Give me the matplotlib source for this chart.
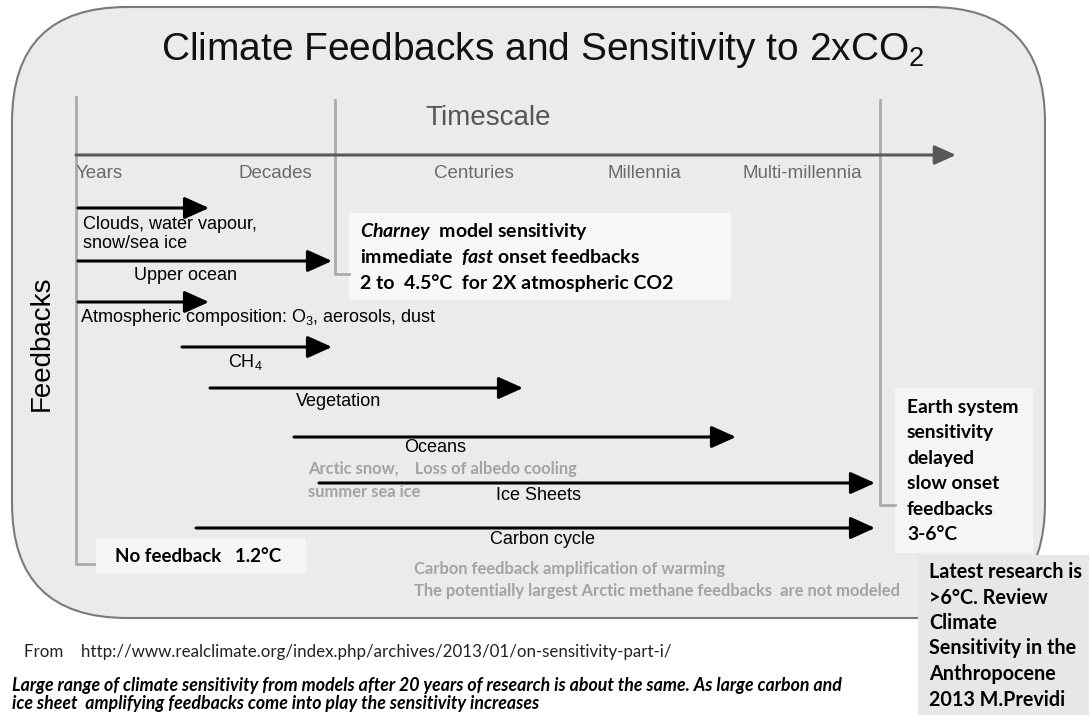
import matplotlib
matplotlib.use("Agg")
import matplotlib.pyplot as plt
from matplotlib.patches import FancyBboxPatch, Rectangle

# timescale along the top axis (diagram drawn in pixel units)
timescale_labels = ["Years", "Decades", "Centuries", "Millennia", "Multi-millennia"]
timescale_pos = [76, 275, 474, 644, 802]

# feedback processes: label, where the arrow starts and ends on the timescale
feedback_names = ["Clouds, water vapour,\nsnow/sea ice", "Upper ocean",
                  "Atmospheric composition: O$_3$, aerosols, dust", "CH$_4$",
                  "Vegetation", "Oceans", "Ice Sheets", "Carbon cycle"]
feedback_start = [78, 78, 78, 182, 210, 294, 319, 196]
feedback_end = [209, 332, 209, 332, 523, 736, 875, 875]

# sensitivity boxes
charney_lines = ["$\\it{Charney}$  model sensitivity",
                 "immediate  $\\it{fast}$ onset feedbacks",
                 "2 to  4.5°C  for 2X atmospheric CO2"]
no_feedback = "No feedback   1.2°C"
earth_lines = ["Earth system", "sensitivity", "delayed", "slow onset", "feedbacks", "3-6°C"]
latest_lines = ["Latest research is", ">6°C. Review", "Climate",
                "Sensitivity in the", "Anthropocene", "2013 M.Previdi"]
grey_notes = ["Arctic snow,    Loss of albedo cooling", "summer sea ice",
              "Carbon feedback amplification of warming",
              "The potentially largest Arctic methane feedbacks  are not modeled"]
source = "From    http://www.realclimate.org/index.php/archives/2013/01/on-sensitivity-part-i/"
caption = ["Large range of climate sensitivity from models after 20 years of research is about the same. As large carbon and",
           "ice sheet  amplifying feedbacks come into play the sensitivity increases"]

plt.rcParams["mathtext.fontset"] = "custom"
plt.rcParams["mathtext.rm"] = "Liberation Sans"
plt.rcParams["mathtext.it"] = "Lato:italic:bold"

helv = ["Liberation Sans", "DejaVu Sans"]
cal = ["Lato", "DejaVu Sans"]

fig = plt.figure(figsize=(10.89, 7.15), dpi=100)
ax = fig.add_axes([0, 0, 1, 1])
ax.set_xlim(0, 1089)
ax.set_ylim(715, 0)
ax.axis("off")

# rounded panel
ax.add_patch(FancyBboxPatch((12, 7), 1033, 611, boxstyle="round,pad=0,rounding_size=115",
                            facecolor="#ebebeb", edgecolor="#7a7a7a", lw=1.5))

ax.text(543, 50, "Climate Feedbacks and Sensitivity to 2xCO$_2$", family=helv,
        fontsize=28, ha="center", va="center", color="#111111")

# timescale axis
ax.annotate("", xy=(956, 155), xytext=(76, 155),
            arrowprops=dict(arrowstyle="-|>,head_length=1.0,head_width=0.45", lw=2.2,
                            color="#585858", shrinkA=0, shrinkB=0, mutation_scale=13))
ax.text(488, 118, "Timescale", family=helv, fontsize=20, ha="center", va="center", color="#555555")
for i, (lab, pos) in enumerate(zip(timescale_labels, timescale_pos)):
    ax.text(pos, 173, lab, family=helv, fontsize=13.5, ha="left" if i == 0 else "center",
            va="center", color="#6a6a6a")

# bracket lines
ax.plot([76, 76, 94], [97, 564, 564], color="#ababab", lw=2)
ax.plot([335, 335, 349], [100, 274, 274], color="#ababab", lw=2)
ax.plot([880, 880, 895], [100, 505, 505], color="#ababab", lw=2)

ax.text(42, 343, "Feedbacks", family=helv, fontsize=20, rotation=90, ha="center", va="center")

# feedback arrows
rows = [208, 261, 302, 347, 388, 437, 483, 528]
label_dy = [26, 14, 15, 15, 13, 11, 12, 12]
for name, x0, x1, y, dy in zip(feedback_names, feedback_start, feedback_end, rows, label_dy):
    ax.annotate("", xy=(x1, y), xytext=(x0, y),
                arrowprops=dict(arrowstyle="-|>,head_length=1.0,head_width=0.45", lw=2.2,
                                color="black", shrinkA=0, shrinkB=0, mutation_scale=15))
label_x = [83, 185, 80, 245, 339, 435, 538, 542]
for name, x, y, dy in zip(feedback_names, label_x, rows, label_dy):
    if "\n" in name or name.startswith("Atmos"):
        ax.text(x, y + dy, name, family=helv, fontsize=13, ha="left", va="center", linespacing=1.2)
    else:
        ax.text(x, y + dy, name, family=helv, fontsize=13, ha="center", va="center")

# text boxes
ax.add_patch(Rectangle((349, 213), 382, 87, facecolor="#f7f7f7", edgecolor="none"))
for line, y in zip(charney_lines, [232, 257, 283]):
    ax.text(360, y, line, family=cal, fontweight="bold", fontsize=14, va="center")

ax.add_patch(Rectangle((96, 538), 210, 35, facecolor="#f6f6f6", edgecolor="none"))
ax.text(115, 556, no_feedback, family=cal, fontweight="bold", fontsize=13.5, va="center")

ax.add_patch(Rectangle((895, 388), 138, 165, facecolor="#f5f5f5", edgecolor="none"))
for i, line in enumerate(earth_lines):
    ax.text(907, 407 + i * 25.6, line, family=cal, fontweight="bold", fontsize=13.9, va="center")

ax.add_patch(Rectangle((918, 555), 171, 160, facecolor="#e7e7e7", edgecolor="none"))
for i, line in enumerate(latest_lines):
    ax.text(929, 572 + i * 25.5, line, family=cal, fontweight="bold", fontsize=14.2, va="center")

# grey notes
note_xy = [(308, 469), (308, 492), (414, 569), (414, 591)]
for note, (x, y) in zip(grey_notes, note_xy):
    ax.text(x, y, note, family=cal, fontweight="bold", fontsize=11.9, color="#a3a3a3", va="center")

ax.text(24, 652, source, family=cal, fontsize=12.2, color="#222222", va="center")
for line, y in zip(caption, [685, 704]):
    ax.text(12, y, line, family=cal, fontsize=12.8, fontweight="bold", style="italic", va="center")

fig.savefig("out.png", dpi=100)
